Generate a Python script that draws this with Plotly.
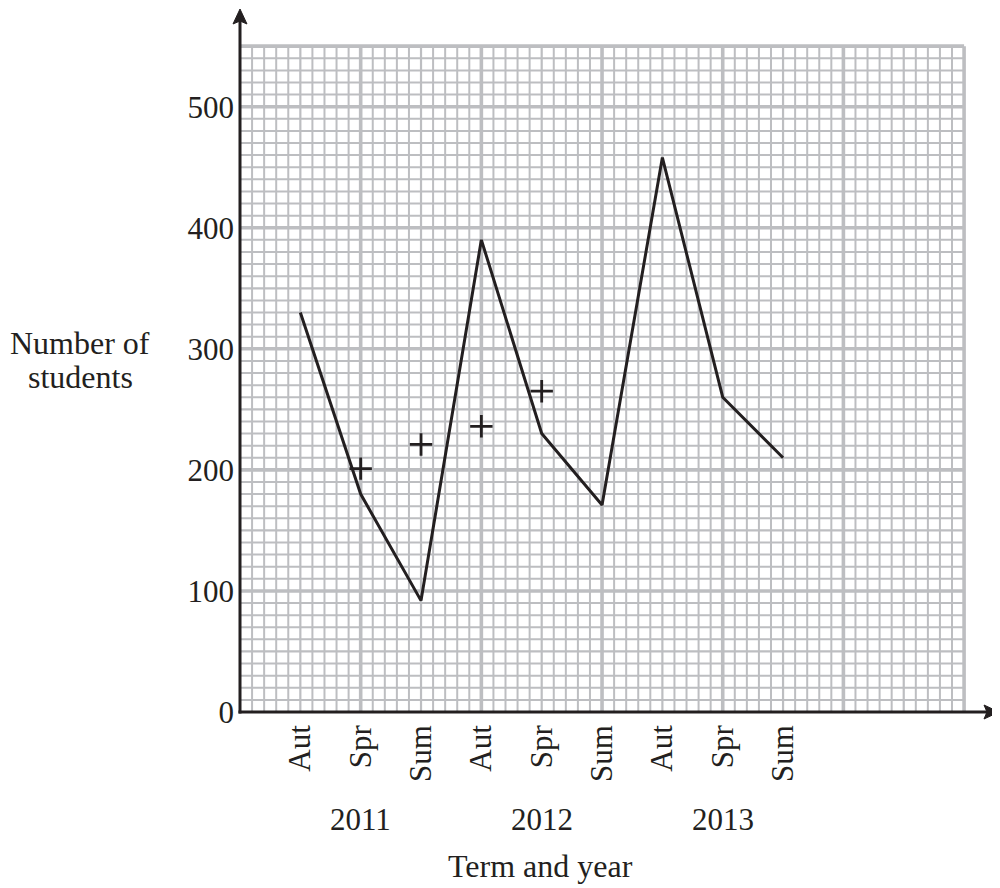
import plotly.graph_objects as go

# ---- data ----
term_labels = ["Aut", "Spr", "Sum", "Aut", "Spr", "Sum", "Aut", "Spr", "Sum"]
students = [330, 180, 92, 390, 230, 171, 458, 260, 210]
# plotted crosses (3-point moving averages as drawn), at term positions 2..5
cross_terms = [2, 3, 4, 5]
cross_values = [201, 221, 236, 265]
years = ["2011", "2012", "2013"]
year_pos = [2, 5, 8]
y_ticks = [0, 100, 200, 300, 400, 500]

term_pos = list(range(1, len(students) + 1))

FONT = "Liberation Serif"
INK = "#231F20"
GRID = "#BDBEC1"

# page body has an 8px margin: the figure starts at (8, 8) in the window
OFF = 8
W, H = 1000 - OFF, 888 - OFF
# window-pixel geometry of plot area
PL, PR, PT, PB = 240, 1000, 10, 712
L, R, T, B = PL - OFF, 1000 - PR, PT - OFF, 888 - PB
px_per_x = 60.34
px_per_y = 1.2106
x_max = (PR - PL) / px_per_x
y_max = (PB - PT) / px_per_y
GX, GY = 12, 550  # extent of graph paper

fig = go.Figure()

fig.add_trace(go.Scatter(
    x=term_pos, y=students, mode="lines",
    line=dict(color=INK, width=3), hoverinfo="skip", showlegend=False))

fig.add_trace(go.Scatter(
    x=cross_terms, y=cross_values, mode="markers",
    marker=dict(symbol="cross-thin", size=16, line=dict(color=INK, width=2.8)),
    hoverinfo="skip", showlegend=False))

shapes = []
# vertical grid lines every 0.2
for i in range(1, int(GX * 5) + 1):
    xv = i / 5
    if i % 10 == 0 or i == GX * 5:
        w = 3.6
    elif i % 5 == 0:
        w = 2.2
    else:
        w = 2
    shapes.append(dict(type="line", xref="x", yref="y", x0=xv, x1=xv, y0=0, y1=GY,
                       line=dict(color=GRID, width=w), layer="below"))
# horizontal grid lines every 10
for j in range(1, GY // 10 + 1):
    yv = j * 10
    if j % 10 == 0 or yv == GY:
        w = 3.6
    elif j % 5 == 0:
        w = 2.2
    else:
        w = 2
    shapes.append(dict(type="line", xref="x", yref="y", x0=0, x1=GX, y0=yv, y1=yv,
                       line=dict(color=GRID, width=w), layer="below"))


def px2paper(px, py):
    """window pixel -> paper coords"""
    return (px - PL) / (PR - PL), (PB - py) / (PB - PT)


# axis lines
ax_end = px2paper(990, 712)
shapes.append(dict(type="line", xref="paper", yref="paper", x0=-0.002, y0=0, x1=ax_end[0], y1=0,
                   line=dict(color=INK, width=3), layer="above"))
ay_end = px2paper(240, 20)
shapes.append(dict(type="line", xref="paper", yref="paper", x0=0, y0=-0.002, x1=0, y1=ay_end[1],
                   line=dict(color=INK, width=3), layer="above"))


def tri(points):
    pts = [px2paper(*p) for p in points]
    return "M " + " L ".join(f"{a:.5f},{b:.5f}" for a, b in pts) + " Z"


shapes.append(dict(type="path", xref="paper", yref="paper",
                   path=tri([(999, 712), (984, 705), (987, 712), (984, 719)]),
                   fillcolor=INK, line=dict(color=INK, width=1), layer="above"))
shapes.append(dict(type="path", xref="paper", yref="paper",
                   path=tri([(240, 9), (233, 24), (240, 21), (247, 24)]),
                   fillcolor=INK, line=dict(color=INK, width=1), layer="above"))

TXT = dict(family=FONT, size=32, color=INK)
annotations = []
for yr, xp in zip(years, year_pos):
    annotations.append(dict(text=yr, x=xp, xref="x", y=px2paper(0, 820)[1], yref="paper",
                            showarrow=False, xanchor="center", yanchor="middle",
                            font=dict(family=FONT, size=31, color=INK)))
annotations.append(dict(text="Term and year", x=px2paper(540, 0)[0], xref="paper",
                        y=px2paper(0, 866)[1], yref="paper", showarrow=False,
                        xanchor="center", yanchor="middle", font=TXT))
annotations.append(dict(text="Number of", x=px2paper(80, 0)[0], xref="paper",
                        y=px2paper(0, 343)[1], yref="paper", showarrow=False,
                        xanchor="center", yanchor="middle", font=TXT))
annotations.append(dict(text="students", x=px2paper(80, 0)[0], xref="paper",
                        y=px2paper(0, 377)[1], yref="paper", showarrow=False,
                        xanchor="center", yanchor="middle", font=TXT))

fig.update_layout(
    width=W, height=H,
    margin=dict(l=L, r=R, t=T, b=B, pad=0),
    paper_bgcolor="white", plot_bgcolor="white",
    shapes=shapes, annotations=annotations,
    xaxis=dict(range=[0, x_max], showgrid=False, zeroline=False, showline=False,
               tickmode="array", tickvals=term_pos, ticktext=term_labels,
               tickangle=-90, ticks="", ticklabelstandoff=6,
               tickfont=dict(family=FONT, size=31, color=INK), fixedrange=True),
    yaxis=dict(range=[0, y_max], showgrid=False, zeroline=False, showline=False,
               tickmode="array", tickvals=y_ticks, ticktext=[str(v) for v in y_ticks],
               ticks="", ticklabelstandoff=5,
               tickfont=dict(family=FONT, size=31, color=INK), fixedrange=True),
)

fig.write_html("out.html")
